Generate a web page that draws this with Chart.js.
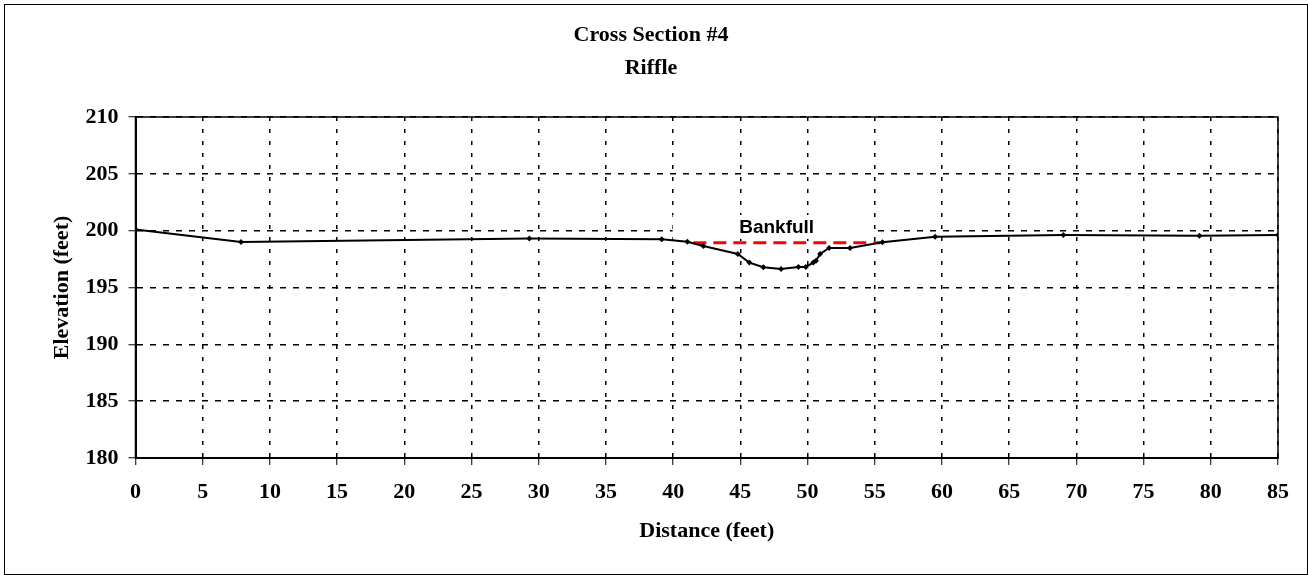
<!DOCTYPE html>
<html>
<head>
<meta charset="utf-8">
<script src="https://cdn.jsdelivr.net/npm/chart.js@4"></script>
<style>
  body { margin: 0; background: #fff; }
  canvas { display: block; }
</style>
</head>
<body>
<canvas id="xsChart" width="1308" height="575"></canvas>
<script>
// ---- data ----
const distance = [0, 7.85, 29.3, 39.15, 41.06, 42.25, 44.81, 45.67, 46.71, 48.03, 49.32, 49.87,
  50.43, 50.63, 50.93, 51.6, 53.16, 55.57, 59.49, 69.03, 79.15, 85];
const elevation = [200.1, 199.0, 199.3, 199.24, 199.03, 198.65, 197.95, 197.19, 196.78, 196.63, 196.81, 196.81,
  197.19, 197.36, 197.95, 198.48, 198.48, 198.98, 199.47, 199.62, 199.56, 199.62];

const bankfullX = [41.5, 55.4];
const bankfullY = [198.94, 198.94];
const bankfullLabel = { text: 'Bankfull', x: 47.7, y: 200.24 };

const titleLines = ['Cross Section #4', 'Riffle'];
const xTitle = 'Distance (feet)';
const yTitle = 'Elevation (feet)';

const serif = "'Liberation Serif', 'Times New Roman', serif";

// ---- extra drawing: bankfull text box, plot frame, outer border ----
const framePlugin = {
  id: 'frame',
  beforeDatasetsDraw(chart) {
    const c = chart.ctx;
    const xs = chart.scales.x, ys = chart.scales.y;
    const px = xs.getPixelForValue(bankfullLabel.x);
    const py = ys.getPixelForValue(bankfullLabel.y);
    c.save();
    // text box hides the grid behind it, like the spreadsheet label
    c.fillStyle = '#fff';
    c.fillRect(px - 104, py - 13, 200, 24);
    c.fillStyle = '#000';
    c.font = "bold 19px 'Liberation Sans', Arial, sans-serif";
    c.textAlign = 'center';
    c.textBaseline = 'middle';
    c.fillText(bankfullLabel.text, px, py);
    c.restore();
  },
  afterDraw(chart) {
    const c = chart.ctx;
    const a = chart.chartArea;
    c.save();
    c.strokeStyle = '#000';
    c.lineWidth = 1.5;
    c.strokeRect(a.left, a.top, a.right - a.left, a.bottom - a.top);
    c.lineWidth = 1;
    c.strokeRect(4.5, 4.5, 1303, 570);
    c.restore();
  }
};

const ctx = document.getElementById('xsChart').getContext('2d');

new Chart(ctx, {
  type: 'line',
  data: {
    datasets: [
      {
        label: 'Bankfull',
        data: bankfullX.map((x, i) => ({ x, y: bankfullY[i] })),
        borderColor: '#ff0000',
        borderWidth: 3,
        borderDash: [13, 7],
        pointRadius: 0,
        order: 2
      },
      {
        label: 'Ground',
        data: distance.map((x, i) => ({ x, y: elevation[i] })),
        borderColor: '#000',
        borderWidth: 2,
        pointStyle: 'rectRot',
        pointRadius: 3,
        pointBackgroundColor: '#000',
        pointBorderColor: '#000',
        pointBorderWidth: 0,
        tension: 0,
        order: 1
      }
    ]
  },
  options: {
    responsive: false,
    animation: false,
    layout: { padding: { left: 24, right: 30, top: 0, bottom: 0 } },
    plugins: {
      legend: { display: false },
      tooltip: { enabled: false },
      title: {
        display: true,
        text: titleLines,
        color: '#000',
        font: { family: serif, size: 22, weight: 'bold', lineHeight: '33px' },
        padding: { top: 18.5, bottom: 32.5 }
      }
    },
    scales: {
      x: {
        type: 'linear',
        min: 0,
        max: 85,
        ticks: {
          stepSize: 5,
          color: '#000',
          padding: 14,
          maxRotation: 0,
          font: { family: serif, size: 22, weight: 'bold' }
        },
        grid: {
          color: '#000',
          lineWidth: 1.5,
          tickLength: 7,
          tickColor: '#000',
          tickWidth: 1,
          tickBorderDash: []
        },
        border: { display: true, color: '#000', width: 2, dash: [4, 8] },
        title: {
          display: true,
          text: xTitle,
          color: '#000',
          font: { family: serif, size: 22, weight: 'bold' },
          padding: { top: 0, bottom: 30 }
        },
        afterFit(scale) { scale.height = 117; }
      },
      y: {
        type: 'linear',
        min: 180,
        max: 210,
        ticks: {
          stepSize: 5,
          color: '#000',
          padding: 10,
          font: { family: serif, size: 22, weight: 'bold' }
        },
        grid: {
          color: '#000',
          lineWidth: 1.5,
          tickLength: 7,
          tickColor: '#000',
          tickWidth: 1,
          tickBorderDash: []
        },
        border: { display: true, color: '#000', width: 2, dash: [6, 7] },
        title: {
          display: true,
          text: yTitle,
          color: '#000',
          font: { family: serif, size: 22, weight: 'bold' },
          padding: { top: 25, bottom: 0 }
        },
        afterFit(scale) { scale.width = 111.5; }
      }
    }
  },
  plugins: [framePlugin]
});
</script>
</body>
</html>
